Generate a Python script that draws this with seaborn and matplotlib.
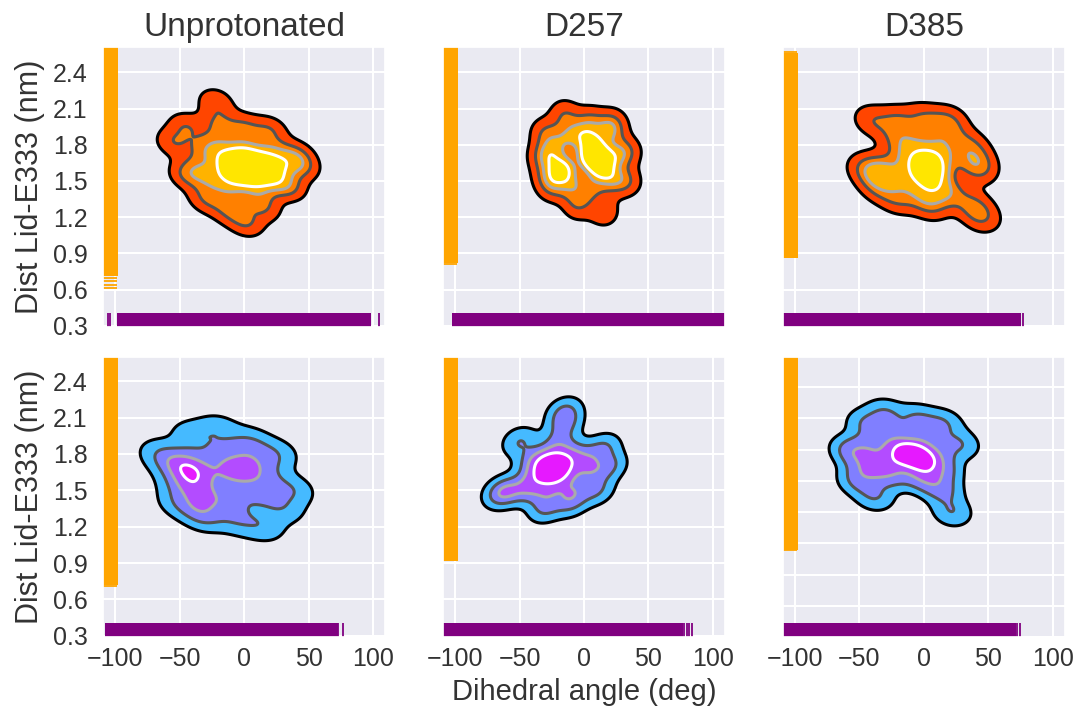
import matplotlib
matplotlib.use("Agg")
import matplotlib.pyplot as plt
from matplotlib.colors import ListedColormap
import pandas as pd
import seaborn as sns

# --- panel titles / axis text ---
titles = ["Unprotonated", "D257", "D385"]
x_ticks = [-100, -50, 0, 50, 100]
y_ticks = [0.0, 0.3, 0.6, 0.9, 1.2, 1.5, 1.8, 2.1, 2.4]

# --- KDE samples: (dihedral deg, distance nm) ---
tl_x = [-15, -5, 5, 15, -10, 0, 10, 20, 0, -5, 8,
        -30, -20, 0, 20, 30, 25, 10, -10, -25, -35,
        -55, -45, -22, -20, 0, 20, 40, 45, 35, 15, 2, -12, -30, -45]
tl_y = [1.65, 1.68, 1.65, 1.62, 1.55, 1.58, 1.55, 1.60, 1.62, 1.60, 1.62,
        1.75, 1.80, 1.78, 1.75, 1.65, 1.50, 1.42, 1.42, 1.50, 1.60,
        1.82, 1.95, 2.15, 1.97, 1.95, 1.92, 1.72, 1.62, 1.45, 1.28, 1.15, 1.25, 1.35, 1.55]

tm_x = [-16, -15, 5, 7, 10, 15, 12, 3,
        -25, -28, -10, 5, 22, 25, 20, -5, -15,
        -32, -15, 5, 22, 33, 33, 15, -5, -25, -30]
tm_y = [1.62, 1.58, 1.85, 1.75, 1.65, 1.58, 1.70, 1.70,
        1.75, 1.55, 1.45, 1.45, 1.50, 1.70, 1.90, 1.90, 1.85,
        1.70, 2.05, 2.00, 1.98, 1.75, 1.50, 1.25, 1.30, 1.45, 1.90]

tr_x = [0, 5, 8, -3, 3, 6,
        -15, -15, 10, 15, -5, 0, -30, -35, 15, -20,
        -45, -40, -20, 0, 20, 35, 42, 38, 20, 5, -20, -35, 40, 45]
tr_y = [1.65, 1.60, 1.68, 1.58, 1.55, 1.62,
        1.70, 1.50, 1.45, 1.75, 1.80, 1.40, 1.60, 1.55, 1.90, 1.85,
        1.60, 2.00, 2.00, 2.02, 2.00, 1.80, 1.60, 1.30, 1.40, 1.30, 1.35, 1.45, 1.68, 1.20]

bl_x = [-43, -40, -35, -30, -25, -5, -10, 0,
        -50, -45, -20, 0, 15, 20, 10, -10, -35, -55,
        -65, -40, -20, 5, 25, 38, 30, 15, -5, -30, -50]
bl_y = [1.68, 1.60, 1.50, 1.65, 1.45, 1.66, 1.64, 1.65,
        1.55, 1.75, 1.80, 1.80, 1.70, 1.55, 1.45, 1.40, 1.35, 1.70,
        1.80, 1.95, 2.00, 1.90, 1.80, 1.50, 1.35, 1.20, 1.25, 1.28, 1.40]

bm_x = [-25, -30, -20, -18, -28, -22,
        -40, -40, -10, 0, 5, -10, -30, -15, -20,
        -50, -60, -45, -15, 15, 20, 10, -10, -30, -65]
bm_y = [1.70, 1.75, 1.62, 1.66, 1.65, 1.72,
        1.75, 1.60, 1.80, 1.75, 1.65, 1.50, 1.48, 2.05, 1.90,
        1.90, 1.50, 1.50, 2.15, 1.85, 1.70, 1.50, 1.40, 1.35, 1.47]

br_x = [-18, -12, -5, 2, -10, -25, -35,
        -45, -40, -25, 0, 10, 15, -5, -25, -50, -45,
        -58, -52, -38, -30, -5, 15, 28, 15, 22, 5]
br_y = [1.80, 1.78, 1.72, 1.68, 1.75, 1.70, 1.62,
        1.60, 1.85, 1.95, 1.90, 1.75, 1.60, 1.55, 1.55, 1.75, 2.05,
        1.80, 1.50, 1.35, 2.15, 2.10, 2.05, 1.85, 1.40, 1.20, 1.50]

# --- rug values (dense runs drawn thick, stray values drawn thin) ---
tl_rug_x = [-91, -80, -70, -60, -50, -40, -30, -20, -10, 0, 10, 20, 30, 40, 50, 60, 70, 80, 90]
tl_rug_x_thin = [-106, -104, 105]
tl_rug_y = [0.80, 0.95, 1.10, 1.25, 1.40, 1.55, 1.70, 1.85, 2.00, 2.15, 2.30, 2.45, 2.60]
tl_rug_y_thin = [0.70, 0.67, 0.64, 0.61]

tm_rug_x = [-95, -80, -65, -50, -35, -20, -5, 10, 25, 40, 55, 70, 85, 100, 108]
tm_rug_x_thin = []
tm_rug_y = [0.91, 1.05, 1.20, 1.35, 1.50, 1.65, 1.80, 1.95, 2.10, 2.25, 2.40, 2.55, 2.65]
tm_rug_y_thin = [0.81]

tr_rug_x = [-105, -90, -75, -60, -45, -30, -15, 0, 15, 30, 45, 60, 67]
tr_rug_x_thin = [77]
tr_rug_y = [0.95, 1.10, 1.25, 1.40, 1.55, 1.70, 1.85, 2.00, 2.15, 2.30, 2.48]
tr_rug_y_thin = [2.57]

bl_rug_x = [-100, -85, -70, -55, -40, -25, -10, 5, 20, 35, 50, 64]
bl_rug_x_thin = [73, 77]
bl_rug_y = [0.81, 0.95, 1.10, 1.25, 1.40, 1.55, 1.70, 1.85, 2.00, 2.15, 2.30, 2.45, 2.60]
bl_rug_y_thin = [0.71]

bm_rug_x = [-105, -90, -75, -60, -45, -30, -15, 0, 15, 30, 45, 60, 68]
bm_rug_x_thin = [77.6, 79.7, 81.8, 83.6]
bm_rug_y = [1.01, 1.15, 1.30, 1.45, 1.60, 1.75, 1.90, 2.05, 2.20, 2.35, 2.50, 2.65]
bm_rug_y_thin = []

br_rug_x = [-105, -90, -75, -60, -45, -30, -15, 0, 15, 30, 45, 60, 63]
br_rug_x_thin = [72.4, 74.3]
br_rug_y = [0.94, 1.10, 1.25, 1.40, 1.55, 1.70, 1.85, 2.00, 2.15, 2.30, 2.45, 2.60, 2.70]
br_rug_y_thin = [0.84]

# iso-proportion contour levels per panel (outer -> inner)
tl_levels = [0.05, 0.22, 0.48, 0.66]
tm_levels = [0.05, 0.22, 0.48, 0.75]
tr_levels = [0.05, 0.22, 0.55, 0.82]
bl_levels = [0.05, 0.28, 0.70, 0.97]
bm_levels = [0.05, 0.22, 0.55, 0.80]
br_levels = [0.05, 0.22, 0.60, 0.85]

xlim = (-109.5, 109.5)
ylims = [[(0.29, 2.61), (0.29, 2.61), (0.29, 2.61)],
         [(0.29, 2.60), (0.29, 2.60), (0.0, 2.69)]]

panels = [
    [(tl_x, tl_y, tl_rug_x, tl_rug_x_thin, tl_rug_y, tl_rug_y_thin, tl_levels),
     (tm_x, tm_y, tm_rug_x, tm_rug_x_thin, tm_rug_y, tm_rug_y_thin, tm_levels),
     (tr_x, tr_y, tr_rug_x, tr_rug_x_thin, tr_rug_y, tr_rug_y_thin, tr_levels)],
    [(bl_x, bl_y, bl_rug_x, bl_rug_x_thin, bl_rug_y, bl_rug_y_thin, bl_levels),
     (bm_x, bm_y, bm_rug_x, bm_rug_x_thin, bm_rug_y, bm_rug_y_thin, bm_levels),
     (br_x, br_y, br_rug_x, br_rug_x_thin, br_rug_y, br_rug_y_thin, br_levels)],
]

row_cmaps = [plt.cm.autumn, plt.cm.cool]
line_colors = ["black", "#555555", "#aaaaaa", "white"]
BW = 0.7

sns.set_theme(style="darkgrid")
plt.rcParams["font.family"] = ["Liberation Sans", "DejaVu Sans"]
plt.rcParams["grid.linewidth"] = 1.5
TXT = "#333333"

fig, axes = plt.subplots(2, 3, figsize=(10.8, 7.13), dpi=100)
fig.subplots_adjust(left=0.0954, right=0.9861, bottom=0.1066, top=0.9341,
                    wspace=0.2046, hspace=0.107)

for r in range(2):
    band_colors = [row_cmaps[r](v) for v in (0.27, 0.5, 0.7, 0.9)]
    for c in range(3):
        ax = axes[r, c]
        xs, ys, rx, rx_thin, ry, ry_thin, levels = panels[r][c]
        df = pd.DataFrame({"angle": xs, "dist": ys})

        # filled bands, outer to inner, each a single colour
        for lvl, col in zip(levels, band_colors):
            sns.kdeplot(data=df, x="angle", y="dist", fill=True, levels=[lvl, 1.0],
                        cmap=ListedColormap([col]), bw_adjust=BW, ax=ax)
        sns.kdeplot(data=df, x="angle", y="dist", levels=levels,
                    colors=line_colors, linewidths=2.2, bw_adjust=BW, ax=ax)

        sns.rugplot(y=ry, ax=ax, height=0.05, color="orange",
                    linewidth=14, antialiased=False, expand_margins=False)
        if ry_thin:
            sns.rugplot(y=ry_thin, ax=ax, height=0.05, color="orange",
                        linewidth=1.3, expand_margins=False)
        sns.rugplot(x=rx, ax=ax, height=0.05, color="purple",
                    linewidth=14, antialiased=False, expand_margins=False)
        if rx_thin:
            sns.rugplot(x=rx_thin, ax=ax, height=0.05, color="purple",
                        linewidth=1.3, expand_margins=False)

        ax.set_xticks(x_ticks)
        ax.set_yticks(y_ticks)
        ax.set_xlim(*xlim)
        ax.set_ylim(*ylims[r][c])
        ax.set_xlabel("")
        ax.set_ylabel("")
        ax.tick_params(axis="x", length=0, pad=7, labelsize=18, labelcolor=TXT,
                       labelbottom=(r == 1))
        ax.tick_params(axis="y", length=0, pad=11, labelsize=18, labelcolor=TXT,
                       labelleft=(c == 0))
        if r == 0:
            ax.set_title(titles[c], fontsize=24, color=TXT, pad=8)
        if c == 0:
            ax.set_ylabel("Dist Lid-E333 (nm)", fontsize=22, color=TXT, labelpad=6)

axes[1, 1].set_xlabel("Dihedral angle (deg)", fontsize=21, color=TXT, labelpad=5)

fig.savefig("out.png", dpi=100)
